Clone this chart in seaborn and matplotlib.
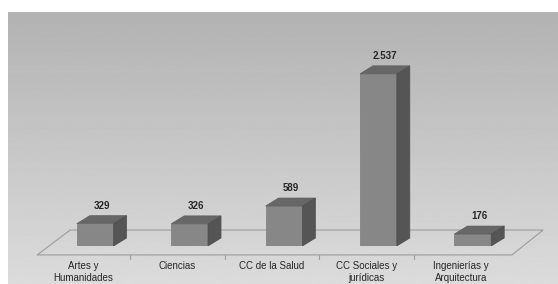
import numpy as np
import seaborn as sns
import matplotlib.pyplot as plt
from matplotlib.patches import Polygon
from matplotlib.transforms import ScaledTranslation, blended_transform_factory

categories = ["Artes y\nHumanidades", "Ciencias", "CC de la Salud",
              "CC Sociales y\njurídicas", "Ingenierías y\nArquitectura"]
values = [329, 326, 589, 2537, 176]

sns.set_style("white")
plt.rcParams["font.family"] = ["Liberation Sans", "DejaVu Sans"]

fig = plt.figure(figsize=(5.58, 2.84), dpi=100)

# grey gradient panel
bg = fig.add_axes([8 / 558, 0, 1 - 8 / 558, 272 / 284])
grad = np.linspace(0.70, 0.86, 256).reshape(-1, 1)
bg.imshow(grad, aspect="auto", cmap="gray", vmin=0, vmax=1,
          extent=[0, 1, 0, 1], origin="upper")
bg.set_axis_off()

ax = fig.add_axes([48 / 558, 38 / 284, 472 / 558, 190 / 284])
ax.patch.set_visible(False)
sns.barplot(x=categories, y=values, color="#878787", saturation=1,
            width=0.39, edgecolor="#7c7c7c", linewidth=0.5, ax=ax, zorder=2)
ax.set_xlim(-0.5, 4.5)
ax.set_ylim(0, 2800)
ax.set_yticks([])
ax.set_ylabel("")
sns.despine(ax=ax, left=True, bottom=True)

# floor of the 3d box
floor = Polygon([(-0.023, -0.047), (0.983, -0.047), (1.049, 0.084), (0.047, 0.084)],
                closed=True, fill=False, edgecolor="#9c9c9c", lw=0.8,
                transform=ax.transAxes, clip_on=False, zorder=0.5)
ax.add_patch(floor)

shift = ScaledTranslation(-12 / 100, 0, fig.dpi_scale_trans)
bt = blended_transform_factory(ax.transData, ax.transAxes) + shift
for i in range(len(categories) - 1):
    ax.plot([i + 0.5, i + 0.5], [-0.047, -0.068], color="#9c9c9c", lw=0.8,
            transform=bt, clip_on=False)

ax.tick_params(axis="x", length=0, pad=11, labelsize=7)
for lab in ax.get_xticklabels():
    lab.set_transform(lab.get_transform() + shift)
    lab.set_linespacing(1.25)

# 3d depth faces
dx, dy = 13, 8
inv = ax.transData.inverted()
for p, v in zip(ax.patches, values):
    x0, w, h = p.get_x(), p.get_width(), p.get_height()
    (px0, py0), (px1, py1) = ax.transData.transform([(x0, 0), (x0 + w, h)])
    top = [(px0, py1), (px1, py1), (px1 + dx, py1 + dy), (px0 + dx, py1 + dy)]
    side = [(px1, py0), (px1 + dx, py0 + dy), (px1 + dx, py1 + dy), (px1, py1)]
    ax.add_patch(Polygon(inv.transform(top), closed=True, facecolor="#676767",
                         edgecolor="#5e5e5e", lw=0.5, zorder=2))
    ax.add_patch(Polygon(inv.transform(side), closed=True, facecolor="#555555",
                         edgecolor="#4e4e4e", lw=0.5, zorder=2))
    ax.annotate(f"{v:,}".replace(",", "."), (x0 + w / 2, h),
                xytext=(dx / 2 * 0.72, 13), textcoords="offset points",
                ha="center", va="center", fontsize=7, fontweight="bold")

fig.savefig("out.png", dpi=100)
